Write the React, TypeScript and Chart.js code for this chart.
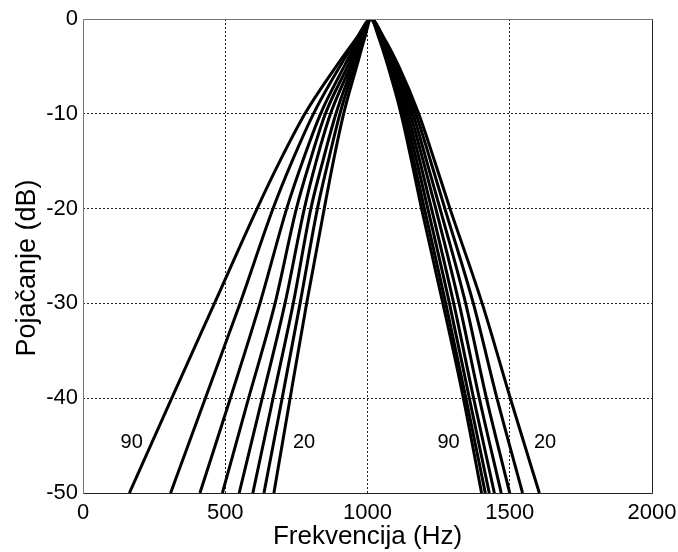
import React, { useEffect, useRef } from 'react';
import { Chart, registerables } from 'chart.js';

Chart.register(...registerables);

// Gain levels (dB) at which each curve's frequencies were read
const gainLevels = [0, -2, -5, -10, -15, -20, -30, -40, -50];
const curveNames = ['90', '80', '70', '60', '50', '40', '30', '20'];

// Low-frequency side (Hz) for each curve, at gainLevels
const left90 = [1012, 962, 890, 780, 692, 612, 462, 312, 163];
const left80 = [1012, 966, 903, 810, 735, 668, 552, 430, 308];
const left70 = [1012, 971, 918, 835, 772, 716, 622, 518, 411];
const left60 = [1012, 975, 930, 852, 798, 750, 675, 582, 490];
const left50 = [1012, 979, 940, 870, 820, 778, 710, 630, 549];
const left40 = [1012, 983, 948, 889, 843, 801, 739, 668, 597];
const left30 = [1012, 987, 955, 903, 862, 824, 763, 700, 636];
const left20 = [1012, 990, 962, 916, 880, 848, 786, 728, 671];

// High-frequency side (Hz) for each curve, at gainLevels
const right90 = [1012, 1040, 1072, 1118, 1155, 1190, 1265, 1337, 1401];
const right80 = [1012, 1042, 1077, 1125, 1163, 1200, 1275, 1346, 1414];
const right70 = [1012, 1045, 1082, 1133, 1173, 1212, 1288, 1358, 1428];
const right60 = [1012, 1047, 1087, 1141, 1184, 1225, 1303, 1373, 1446];
const right50 = [1012, 1050, 1093, 1150, 1196, 1240, 1322, 1393, 1470];
const right40 = [1012, 1052, 1099, 1160, 1208, 1255, 1345, 1418, 1500];
const right30 = [1012, 1055, 1104, 1170, 1222, 1272, 1372, 1455, 1545];
const right20 = [1012, 1058, 1110, 1180, 1236, 1290, 1403, 1502, 1604];

const leftSides = [left90, left80, left70, left60, left50, left40, left30, left20];
const rightSides = [right90, right80, right70, right60, right50, right40, right30, right20];

// Curve annotations
const annotationTexts = ['90', '20', '90', '20'];
const annotationX = [171, 777, 1285, 1624];
const annotationY = [-44.7, -44.7, -44.7, -44.7];

const xTicks = [0, 500, 1000, 1500, 2000];
const yTicks = [0, -10, -20, -30, -40, -50];

const xTitle = 'Frekvencija (Hz)';
const yTitle = 'Pojačanje (dB)';

const FONT = "'Liberation Sans', Arial, Helvetica, sans-serif";

function buildPoints(left: number[], right: number[]) {
  const pts: { x: number; y: number }[] = [];
  for (let i = gainLevels.length - 1; i >= 0; i--) pts.push({ x: left[i], y: gainLevels[i] });
  for (let i = 1; i < gainLevels.length; i++) pts.push({ x: right[i], y: gainLevels[i] });
  return pts;
}

const decorPlugin = {
  id: 'decor',
  afterDatasetsDraw(chart: any) {
    const { ctx, chartArea, scales } = chart;
    ctx.save();
    ctx.font = `20px ${FONT}`;
    ctx.fillStyle = '#000';
    ctx.textAlign = 'center';
    ctx.textBaseline = 'middle';
    annotationTexts.forEach((t, i) => {
      ctx.fillText(t, scales.x.getPixelForValue(annotationX[i]), scales.y.getPixelForValue(annotationY[i]));
    });
    const { left, right, top, bottom } = chartArea;
    ctx.lineWidth = 1;
    ctx.strokeStyle = '#777';
    ctx.beginPath();
    ctx.moveTo(left + 0.5, bottom + 0.5);
    ctx.lineTo(left + 0.5, top + 0.5);
    ctx.lineTo(right + 0.5, top + 0.5);
    ctx.stroke();
    ctx.strokeStyle = '#222';
    ctx.beginPath();
    ctx.moveTo(right + 0.5, top + 0.5);
    ctx.lineTo(right + 0.5, bottom + 0.5);
    ctx.lineTo(left + 0.5, bottom + 0.5);
    ctx.stroke();
    // y-axis title
    ctx.font = `27px ${FONT}`;
    ctx.translate(28, (top + bottom) / 2 + 12);
    ctx.rotate(-Math.PI / 2);
    ctx.fillText(yTitle, 0, 0);
    ctx.restore();
  },
};

export default function App() {
  const ref = useRef<HTMLCanvasElement | null>(null);
  useEffect(() => {
    document.body.style.margin = '0';
    const canvas = ref.current!;
    const datasets = curveNames.map((name, i) => ({
      label: name,
      data: buildPoints(leftSides[i], rightSides[i]),
      showLine: true,
      borderColor: '#000',
      backgroundColor: '#000',
      borderWidth: 3,
      pointRadius: 0,
      cubicInterpolationMode: 'monotone' as const,
      fill: false,
    }));
    const gridColor = (c: any) => {
      const v = c.tick?.value;
      const s = c.scale;
      if (v === s.min || v === s.max) return 'rgba(0,0,0,0)';
      return '#222';
    };
    const chart = new Chart(canvas, {
      type: 'scatter',
      data: { datasets },
      plugins: [decorPlugin],
      options: {
        animation: false,
        responsive: false,
        maintainAspectRatio: false,
        layout: { padding: { top: 19, right: 26, left: 0, bottom: 0 } },
        plugins: { legend: { display: false }, tooltip: { enabled: false } },
        scales: {
          x: {
            type: 'linear',
            min: 0,
            max: 2000,
            afterBuildTicks: (s: any) => {
              s.ticks = xTicks.map((v) => ({ value: v }));
            },
            afterFit: (s: any) => {
              s.height = 59;
              s.paddingLeft = 0;
              s.paddingRight = 0;
            },
            grid: { color: gridColor, lineWidth: 1, drawTicks: false } as any,
            border: { display: false, dash: [2, 2] },
            ticks: {
              color: '#000',
              font: { size: 22, family: FONT },
              padding: 7,
              maxRotation: 0,
              callback: (v: any) => String(v),
            },
            title: {
              display: true,
              text: xTitle,
              color: '#000',
              font: { size: 26, family: FONT },
              padding: { top: 0, bottom: 0 },
            },
          },
          y: {
            type: 'linear',
            min: -50,
            max: 0,
            afterBuildTicks: (s: any) => {
              s.ticks = yTicks.map((v) => ({ value: v }));
            },
            afterFit: (s: any) => {
              s.width = 83;
              s.paddingTop = 0;
              s.paddingBottom = 0;
            },
            grid: { color: gridColor, lineWidth: 1, drawTicks: false } as any,
            border: { display: false, dash: [2, 2] },
            ticks: {
              color: '#000',
              font: { size: 22, family: FONT },
              padding: 5,
              callback: (v: any) => String(v),
            },
            title: { display: false },
          },
        },
      },
    });
    return () => chart.destroy();
  }, []);
  return (
    <div style={{ position: 'absolute', left: 0, top: 0, width: 678, height: 552, background: '#fff' }}>
      <canvas ref={ref} width={678} height={552} style={{ width: 678, height: 552, display: 'block' }} />
    </div>
  );
}
